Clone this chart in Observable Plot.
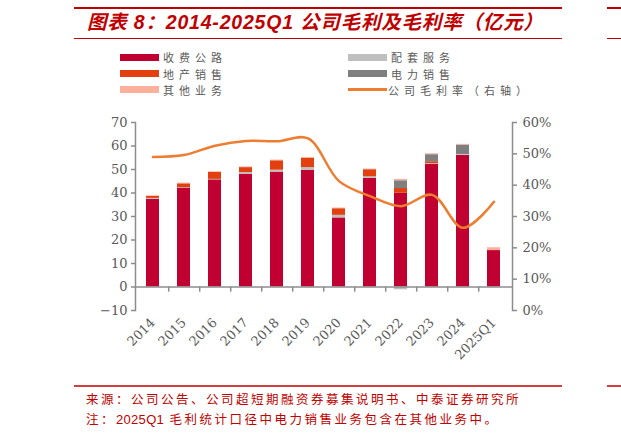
<!DOCTYPE html>
<html><head><meta charset="utf-8">
<script src="https://cdn.jsdelivr.net/npm/d3@7"></script>
<script src="https://cdn.jsdelivr.net/npm/@observablehq/plot@0.6"></script>
<style>
body{margin:0;background:#fff;}
#page{position:relative;width:621px;height:435px;overflow:hidden;font-family:"Noto Sans CJK SC",sans-serif;background:#fff;}
.hl{position:absolute;background:#C00000;}
#title{position:absolute;left:87px;top:10px;font-style:italic;font-weight:bold;font-size:19.5px;font-family:"Liberation Sans","Noto Sans CJK SC";color:#C00000;white-space:nowrap;letter-spacing:0.8px;line-height:24px;}
.lg{position:absolute;font-size:11px;color:#595959;letter-spacing:5px;white-space:nowrap;line-height:12px;}
.sw{position:absolute;width:39px;height:7px;}
#chart{position:absolute;left:0;top:100px;}
.ft{position:absolute;left:86px;font-size:12.5px;color:#C00000;letter-spacing:2.5px;white-space:nowrap;line-height:15px;}
.ft span{font-family:"Liberation Sans";letter-spacing:0.3px;font-size:13px;}
</style>
</head><body>
<div id="page">
  <div class="hl" style="left:74px;top:7px;width:488px;height:2px;"></div>
  <div class="hl" style="left:607px;top:7px;width:14px;height:2px;"></div>
  <div class="hl" style="left:74px;top:38px;width:488px;height:1px;"></div>
  <div class="hl" style="left:607px;top:38px;width:14px;height:1px;"></div>
  <div id="title">图表 8：2014-2025Q1 公司毛利及毛利率（亿元）</div>
  <div id="legend"></div>
  <div id="chart"></div>
  <div class="hl" style="left:74px;top:385px;width:488px;height:1.5px;background:#D04040;"></div>
  <div class="hl" style="left:607px;top:385px;width:14px;height:1.5px;background:#D04040;"></div>
  <div class="ft" style="top:391px;">来源：公司公告、公司超短期融资券募集说明书、中泰证券研究所</div>
  <div class="ft" style="top:411px;">注：<span>2025Q1</span> 毛利统计口径中电力销售业务包含在其他业务中。</div>
</div>
<script>
const years = ["2014","2015","2016","2017","2018","2019","2020","2021","2022","2023","2024","2025Q1"];
const road     = [37.3,42.1,45.6,48.0,48.9,49.6,29.4,46.2,39.9,52.2,56.0,15.5];
const support  = [0.4,0.2,0.2,0.7,0.8,1.2,1.1,0.7,-1.2,0.3,0.4,0];
const property = [0.8,1.6,3.0,2.1,4.0,4.0,2.8,3.0,2.0,0.8,0,0];
const power    = [0,0,0,0,0,0,0,0,3.3,3.0,4.0,0];
const other    = [0.3,0.3,0.2,0.3,0.3,0.3,0.3,0.3,0.6,0.4,0.3,1.2];
const marginPct = [49.0,49.6,52.6,54.1,54.0,54.9,41.3,36.5,33.3,36.9,26.4,34.7];
const seriesNames = ["收费公路","配套服务","地产销售","电力销售","其他业务"];
const seriesColors = ["#C00030","#BFBFBF","#E2400E","#7F7F7F","#FBB09C"];
const lineName = "公司毛利率（右轴）";
const lineColor = "#ED7D31";
const leftTicks = [-10,0,10,20,30,40,50,60,70];
const rightTicks = [0,10,20,30,40,50,60];

const seriesValues = [road, support, property, power, other];
const rows = [];
years.forEach((y,i)=>seriesValues.forEach((arr,j)=>rows.push({year:y, series:seriesNames[j], value:arr[i]})));
const pctToLeft = p => p/60*80 - 10;
const lineData = years.map((y,i)=>({year:y, v:pctToLeft(marginPct[i])}));

const W=621, ML=135, MR=109;
const half = (W-ML-MR)/years.length/2;
const axisGrey = "#8C8C8C";

const chart = Plot.plot({
  width:W, height:280, marginTop:22, marginBottom:70, marginLeft:ML, marginRight:MR,
  style:{fontFamily:"DejaVu Serif", fontSize:"13px", color:"#595959", background:"white", overflow:"visible"},
  x:{domain:years, paddingInner:0.58, paddingOuter:0.29, label:null},
  y:{domain:[-10,70], label:null},
  color:{domain:seriesNames, range:seriesColors},
  marks:[
    Plot.barY(rows,{x:"year", y:"value", fill:"series", order:seriesNames}),
    Plot.ruleY([0],{stroke:axisGrey, strokeWidth:1.5}),
    Plot.ruleX(years.slice(0,-1),{x:d=>d, y1:0, y2:-2.2, dx:half, stroke:axisGrey, strokeWidth:1.5}),
    Plot.line(lineData,{x:"year", y:"v", curve:"catmull-rom", stroke:lineColor, strokeWidth:2.5}),
    Plot.frame({anchor:"left", stroke:axisGrey, strokeWidth:1.5}),
    Plot.frame({anchor:"right", stroke:axisGrey, strokeWidth:1.5}),
    Plot.axisY({anchor:"left", ticks:leftTicks, tickSize:4, tickPadding:4, label:null, stroke:axisGrey, strokeWidth:1.5, fill:"#595959"}),
    Plot.axisY({anchor:"right", ticks:rightTicks.map(pctToLeft), tickFormat:v=>Math.round((v+10)/80*60)+"%", tickSize:4, tickPadding:6, label:null, stroke:axisGrey, strokeWidth:1.5, fill:"#595959"}),
    Plot.axisX({tickRotate:-45, tickSize:0, tickPadding:10, label:null, fill:"#595959"})
  ]
});
document.getElementById("chart").appendChild(chart);

// legend
const lg = document.getElementById("legend");
const legendItems = [
  {name:seriesNames[0], color:seriesColors[0], col:0, row:0},
  {name:seriesNames[1], color:seriesColors[1], col:1, row:0},
  {name:seriesNames[2], color:seriesColors[2], col:0, row:1},
  {name:seriesNames[3], color:seriesColors[3], col:1, row:1},
  {name:seriesNames[4], color:seriesColors[4], col:0, row:2},
  {name:lineName, color:lineColor, col:1, row:2, line:true}
];
const colX = [120, 348], rowY = [57.3, 73.5, 89.7];
legendItems.forEach(it=>{
  const sw = document.createElement("div");
  sw.className = "sw";
  sw.style.left = colX[it.col]+"px";
  if(it.line){ sw.style.height="2.5px"; sw.style.top=(rowY[it.row]-1.25)+"px"; }
  else sw.style.top=(rowY[it.row]-3.5)+"px";
  sw.style.background = it.color;
  lg.appendChild(sw);
  const t = document.createElement("div");
  t.className="lg";
  t.textContent = it.name;
  t.style.left = (colX[it.col]+(it.line?40:43))+"px";
  t.style.top = (rowY[it.row]-6)+"px";
  lg.appendChild(t);
});
</script>
</body></html>
